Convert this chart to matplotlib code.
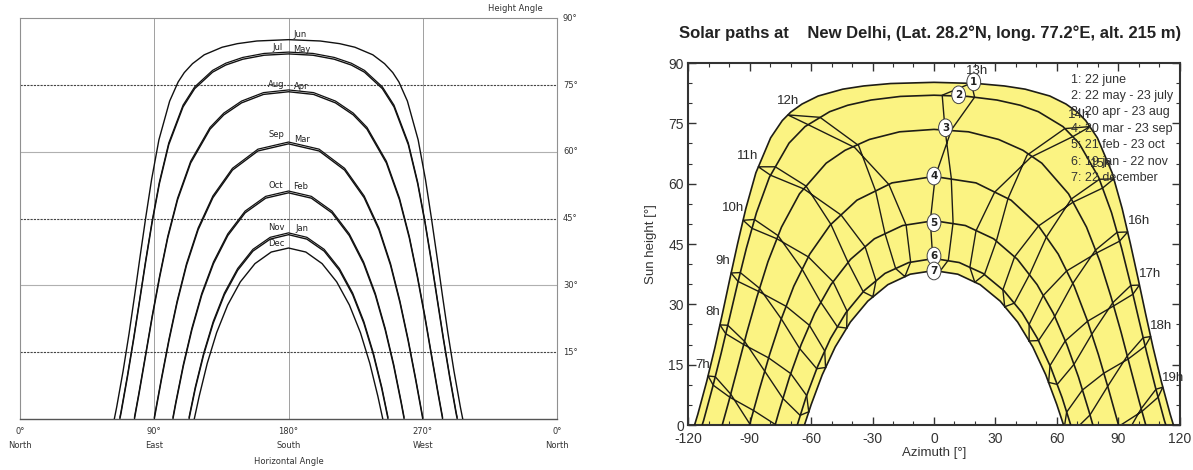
import numpy as np
import matplotlib.pyplot as plt
from matplotlib.ticker import MultipleLocator
import matplotlib.transforms as mtransforms

plt.rcParams["axes.unicode_minus"] = False

# ---------------- data ----------------
# day paths: azimuth from south (west positive) and sun height, degrees
az_1 = [-116.8, -115.2, -110.9, -106.9, -103.2, -99.6, -95.8, -91.8, -86.9, -79.7, -74.0, -69.9, -64.4, -56.5,
        -44.5, -34.3, -21.2, 0, 21.2, 34.3, 44.5, 56.5, 64.4, 69.9, 74.0, 79.7, 86.9, 91.8, 95.8, 99.6, 103.2,
        106.9, 110.9, 115.2, 116.8]
alt_1 = [0, 2.7, 10.8, 19.2, 27.7, 36.3, 45.1, 53.8, 62.7, 71.4, 75.7, 77.8, 79.8, 81.8, 83.5, 84.3, 84.9, 85.2,
         84.9, 84.3, 83.5, 81.8, 79.8, 77.8, 75.7, 71.4, 62.7, 53.8, 45.1, 36.3, 27.7, 19.2, 10.8, 2.7, 0]
az_2 = [-113.1, -112.4, -108.0, -103.8, -99.8, -95.8, -91.5, -86.6, -80.3, -70.7, -62.9, -50.9, -42.1, -30.7,
        -16.4, 0, 16.4, 30.7, 42.1, 50.9, 62.9, 70.7, 80.3, 86.6, 91.5, 95.8, 99.8, 103.8, 108.0, 112.4, 113.1]
alt_2 = [0, 1.1, 9.4, 17.9, 26.5, 35.2, 44.0, 52.8, 61.6, 70.1, 74.2, 77.9, 79.5, 80.8, 81.7, 82.0, 81.7, 80.8,
         79.5, 77.9, 74.2, 70.1, 61.6, 52.8, 44.0, 35.2, 26.5, 17.9, 9.4, 1.1, 0]
az_3 = [-103.3, -100.3, -95.8, -91.3, -86.4, -81.0, -74.4, -65.6, -52.6, -43.4, -31.5, -16.8, 0, 16.8, 31.5,
        43.4, 52.6, 65.6, 74.4, 81.0, 86.4, 91.3, 95.8, 100.3, 103.3]
alt_3 = [0, 5.5, 14.2, 23.0, 31.8, 40.6, 49.2, 57.5, 65.1, 68.3, 71.0, 72.9, 73.5, 72.9, 71.0, 68.3, 65.1, 57.5,
         49.2, 40.6, 31.8, 23.0, 14.2, 5.5, 0]
az_4 = [-90, -85.2, -80.2, -74.7, -68.4, -60.6, -50.7, -37.6, -20.5, 0, 20.5, 37.6, 50.7, 60.6, 68.4, 74.7,
        80.2, 85.2, 90]
alt_4 = [0, 8.8, 17.5, 26.1, 34.5, 42.5, 49.7, 55.9, 60.2, 61.8, 60.2, 55.9, 49.7, 42.5, 34.5, 26.1, 17.5, 8.8, 0]
az_5 = [-77.5, -75.6, -70.5, -64.8, -58.2, -50.3, -40.7, -29.1, -15.3, 0, 15.3, 29.1, 40.7, 50.3, 58.2, 64.8,
        70.5, 75.6, 77.5]
alt_5 = [0, 3.4, 11.9, 20.0, 27.8, 34.9, 41.2, 46.3, 49.6, 50.8, 49.6, 46.3, 41.2, 34.9, 27.8, 20.0, 11.9, 3.4, 0]
az_6 = [-66.7, -62.5, -56.9, -50.5, -43.0, -34.1, -23.9, -12.3, 0, 12.3, 23.9, 34.1, 43.0, 50.5, 56.9, 62.5, 66.7]
alt_6 = [0, 6.8, 14.4, 21.5, 27.9, 33.4, 37.7, 40.4, 41.4, 40.4, 37.7, 33.4, 27.9, 21.5, 14.4, 6.8, 0]
az_7 = [-63.2, -59.9, -54.5, -48.2, -40.8, -32.3, -22.5, -11.6, 0, 11.6, 22.5, 32.3, 40.8, 48.2, 54.5, 59.9, 63.2]
alt_7 = [0, 5.1, 12.5, 19.4, 25.6, 30.8, 34.9, 37.5, 38.4, 37.5, 34.9, 30.8, 25.6, 19.4, 12.5, 5.1, 0]

day_az = [az_1, az_2, az_3, az_4, az_5, az_6, az_7]
day_alt = [alt_1, alt_2, alt_3, alt_4, alt_5, alt_6, alt_7]

legend_lines = ["1: 22 june", "2: 22 may - 23 july", "3: 20 apr - 23 aug", "4: 20 mar - 23 sep",
                "5: 21 feb - 23 oct", "6: 19 jan - 22 nov", "7: 22 december"]

# hour lines, points in date order dec, jan, feb, mar, apr, may, jun, jul, aug, sep, oct, nov, dec
hour_labels = ["7h", "8h", "9h", "10h", "11h", "12h", "13h", "14h", "15h", "16h", "17h", "18h", "19h"]
hour_az = [
    [-66, -70, -81, -89.9, -99.2, -106.7, -110.2, -107.7, -99.6, -88.0, -77.3, -69, -66],
    [-61.1, -65.3, -73.7, -82.6, -92.4, -100.6, -104.4, -101.6, -92.8, -80.7, -69.9, -62.1, -61.1],
    [-52.9, -57.2, -65.5, -74.5, -85.1, -94.5, -99.0, -95.6, -85.5, -72.1, -60.8, -53.3, -52.9],
    [-42.6, -47.1, -55.2, -64.3, -76.1, -87.6, -93.1, -88.8, -76.6, -61.3, -49.2, -42.4, -42.6],
    [-29.8, -34.5, -41.9, -50.3, -62.4, -77.4, -85.7, -79.7, -63.5, -45.3, -33.6, -28.3, -29.8],
    [-14.2, -18.7, -23.9, -28.5, -36.8, -55.6, -71.3, -61.5, -38.7, -22.0, -13.6, -11.4, -14.2],
    [3.0, -0.6, -1.8, 0.6, 8.5, 19.8, 18.2, 4.0, 5.4, 8.4, 9.3, 7.0, 3.0],
    [19.9, 17.5, 20.5, 29.6, 47.3, 67.7, 76.2, 63.8, 45.4, 36.1, 30.4, 24.6, 19.9],
    [34.5, 33.6, 39.3, 51.0, 67.8, 82.2, 87.7, 80.7, 67.0, 54.8, 46.6, 39.2, 34.5],
    [46.4, 46.4, 53.3, 64.7, 79.4, 90.5, 94.5, 89.3, 78.8, 67.7, 58.9, 51.0, 46.4],
    [55.9, 56.6, 64.0, 74.9, 87.6, 97.0, 100.2, 96.0, 87.2, 77.0, 68.3, 60.1, 55.9],
    [63.5, 64.7, 72.4, 82.9, 94.7, 103.0, 105.7, 102.0, 94.3, 84.7, 76.1, 67.5, 63.5],
    [70, 72, 80.5, 90.2, 101.5, 109.3, 111.6, 108.3, 101.1, 92.5, 83, 75, 70],
]
hour_alt = [
    [-8.7, -9.9, -6.2, 0.3, 7.7, 12.0, 12.2, 9.9, 6.9, 3.6, 0.1, -4.7, -8.7],
    [3.3, 2.4, 6.6, 13.4, 20.8, 24.8, 24.9, 22.7, 20.0, 16.7, 12.8, 7.3, 3.3],
    [14.3, 14.0, 19.0, 26.4, 34.0, 37.9, 37.8, 35.7, 33.2, 29.5, 24.8, 18.4, 14.3],
    [24.1, 24.4, 30.5, 38.7, 47.1, 51.1, 50.9, 48.9, 46.3, 41.8, 35.6, 28.3, 24.1],
    [31.9, 33.1, 40.4, 49.9, 59.4, 64.2, 64.2, 62.1, 58.7, 52.2, 44.3, 35.9, 31.9],
    [36.9, 38.9, 47.6, 58.2, 69.5, 76.5, 77.1, 74.7, 69.0, 59.8, 49.7, 40.5, 36.9],
    [38.3, 41.4, 50.8, 61.8, 73.4, 81.5, 85.0, 82.0, 73.4, 61.5, 50.3, 41.0, 38.3],
    [35.5, 39.2, 48.3, 57.9, 66.6, 71.7, 74.2, 73.7, 67.1, 56.3, 45.7, 37.4, 35.5],
    [29.4, 33.6, 41.8, 49.5, 55.4, 58.9, 61.2, 61.1, 56.2, 46.7, 37.4, 30.3, 29.4],
    [20.9, 25.0, 32.2, 38.3, 42.8, 45.7, 48.0, 47.9, 43.5, 35.2, 27.0, 21.0, 20.9],
    [10.6, 14.8, 20.9, 25.8, 29.6, 32.5, 34.8, 34.7, 30.4, 22.6, 15.1, 10.1, 10.6],
    [-0.8, 3.2, 8.7, 12.9, 16.4, 19.6, 22.0, 21.7, 17.2, 9.6, 2.5, -1.8, -0.8],
    [-13, -9, -4.1, -0.3, 3.4, 6.9, 9.4, 8.9, 4.1, -3.6, -10.4, -15, -13],
]
hour_label_pos = [(-113, 15), (-108, 28), (-103, 40.8), (-98, 54), (-91, 67), (-71, 80.5), (21, 88),
                  (71, 77), (81.5, 65), (100, 50.7), (105.5, 37.5), (111, 24.6), (116.7, 11.8)]
marker_pos = [(19.4, 85.3), (12, 82.1), (5.6, 73.9), (0, 61.9), (0, 50.3), (0, 42), (0, 38.3)]

# left chart: month names at the top of each path
month_names = ["Jun", "Jul", "May", "Aug", "Apr", "Sep", "Mar", "Oct", "Feb", "Nov", "Jan", "Dec"]
month_pos = [(187.7, 86.4), (172.8, 83.5), (189, 82.9), (171.6, 75.2), (188.2, 74.6), (171.6, 63.9),
             (189, 62.8), (171.6, 52.4), (188.2, 52.3), (171.6, 43.0), (189, 42.7), (171.6, 39.5)]
compass = [(0, "0°", "North"), (90, "90°", "East"), (180, "180°", "South"), (270, "270°", "West"),
           (360, "0°", "North")]
height_ticks = [90, 75, 60, 45, 30, 15]

sans = ["Liberation Sans", "DejaVu Sans"]

fig = plt.figure(figsize=(11.93, 4.70), dpi=100)

# ---------------- left chart ----------------
ax1 = fig.add_axes([0.0168, 0.1085, 0.4501, 0.8526])
ax1.set_xlim(0, 360)
ax1.set_ylim(0, 90)
ax1.set_xticks([])
ax1.set_yticks([])
for x in (90, 180, 270):
    ax1.axvline(x, color="#a0a0a0", lw=0.7, zorder=1)
for y in (15, 45, 75):
    ax1.axhline(y, color="#444444", lw=0.8, ls=(0, (2, 1)), zorder=1)
for y in (30, 60):
    ax1.axhline(y, color="#b0b0b0", lw=0.8, zorder=1)
for side in ("top", "left", "right"):
    ax1.spines[side].set_color("#909090")
    ax1.spines[side].set_linewidth(0.8)
ax1.spines["bottom"].set_color("#555555")
ax1.spines["bottom"].set_linewidth(1.0)

shift = mtransforms.offset_copy(ax1.transData, fig=fig, x=0, y=1.3, units="points")
for i in range(7):
    x = np.array(day_az[i]) + 180  # azimuth measured from north
    ax1.plot(x, day_alt[i], color="#111111", lw=1.0, zorder=3)
    if 0 < i < 6:  # two months share the path: drawn as a double line
        ax1.plot(x, day_alt[i], color="#111111", lw=0.9, zorder=3, transform=shift)

for name, (x, y) in zip(month_names, month_pos):
    ax1.text(x, y, name, fontsize=6, ha="center", va="center", color="#222222", zorder=4)
for v in height_ticks:
    ax1.text(364, v, f"{v}°", fontsize=6, ha="left", va="center", color="#333333", clip_on=False)
ax1.text(332, 92.3, "Height Angle", fontsize=6, ha="center", va="center", color="#333333", clip_on=False)
for x, deg, name in compass:
    ax1.text(x, -2.9, deg, fontsize=6, ha="center", va="center", color="#333333", clip_on=False)
    ax1.text(x, -6.0, name, fontsize=6, ha="center", va="center", color="#333333", clip_on=False)
ax1.text(180, -9.5, "Horizontal Angle", fontsize=6, ha="center", va="center", color="#333333",
         clip_on=False)

# ---------------- right chart ----------------
ax2 = fig.add_axes([0.5767, 0.0957, 0.4124, 0.7702])
ax2.set_xlim(-120, 120)
ax2.set_ylim(0, 90)
line_col = "#1e1d16"

ax2.fill(np.concatenate([az_1, az_7[::-1]]), np.concatenate([alt_1, alt_7[::-1]]),
         color="#fbf382", lw=0, zorder=1)
for i in range(7):
    ax2.plot(day_az[i], day_alt[i], color=line_col, lw=1.2, zorder=3)
for i in range(len(hour_labels)):
    ax2.plot(hour_az[i], hour_alt[i], color=line_col, lw=1.0, zorder=2)
    x, y = hour_label_pos[i]
    ax2.text(x, y, hour_labels[i], fontsize=9.5, family=sans, ha="center", va="center",
             color="#2a2a2a", zorder=5, clip_on=False)

for k, (x, y) in enumerate(marker_pos):
    ax2.text(x, y, str(k + 1), fontsize=7.5, fontweight="bold", ha="center", va="center", color="#222222",
             bbox=dict(boxstyle="ellipse,pad=0.12", fc="white", ec="#444444", lw=0.7), zorder=6)

for k, line in enumerate(legend_lines):
    ax2.text(66.7, 85.9 - 4.1 * k, line, fontsize=9, family=sans, ha="left", va="center",
             color="#333333", zorder=5)

ax2.xaxis.set_major_locator(MultipleLocator(30))
ax2.xaxis.set_minor_locator(MultipleLocator(10))
ax2.yaxis.set_major_locator(MultipleLocator(15))
ax2.yaxis.set_minor_locator(MultipleLocator(5))
ax2.tick_params(which="both", direction="in", top=True, right=True, color="#333333")
ax2.tick_params(which="major", length=6, width=1.0, labelsize=10, labelcolor="#333333", pad=3)
ax2.tick_params(axis="x", which="major", pad=5)
ax2.tick_params(which="minor", length=3, width=0.8)
for lab in ax2.get_xticklabels() + ax2.get_yticklabels():
    lab.set_family(sans)
for side in ax2.spines:
    ax2.spines[side].set_linewidth(1.5)
    ax2.spines[side].set_color("#333333")

ax2.set_xlabel("Azimuth [°]", fontsize=9.5, family=sans, color="#333333", labelpad=1)
ax2.set_ylabel("Sun height [°]", fontsize=9.5, family=sans, color="#333333", labelpad=8)
fig.text(0.7796, 0.93, "Solar paths at    New Delhi, (Lat. 28.2°N, long. 77.2°E, alt. 215 m)",
         fontsize=12, fontweight="bold", ha="center", va="center", color="#222222", family=sans)

fig.savefig("out.png", dpi=100)
